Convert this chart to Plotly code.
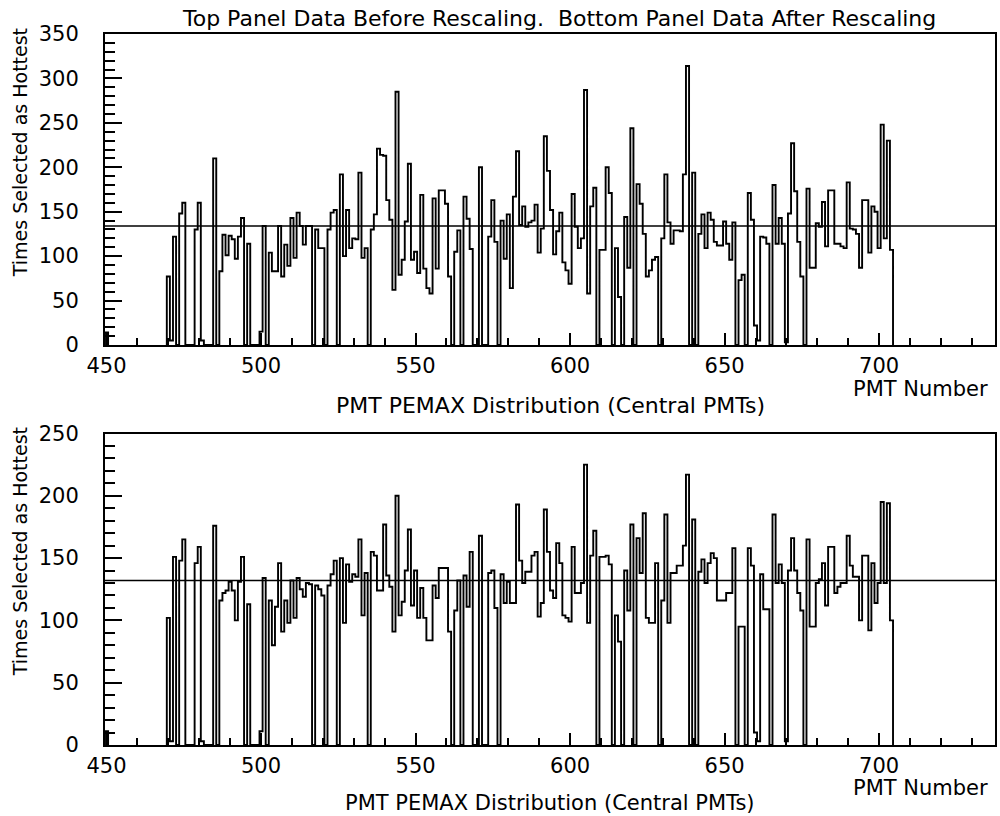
import plotly.graph_objects as go

# PMT channels that carry data (one histogram bin per PMT)
pmt_numbers = list(range(470, 705))

# Times each PMT was the hottest, before rescaling (PMT 470 .. 704)
top_counts = [
    77, 5, 122, 0, 148, 160, 0, 0, 0, 130,          # 470
    160, 5, 0, 0, 0, 210, 0, 83, 124, 101,          # 480
    123, 119, 97, 122, 143, 0, 114, 0, 0, 0,        # 490
    15, 134, 0, 104, 83, 83, 134, 77, 113, 89,      # 500
    143, 98, 149, 134, 113, 134, 134, 0, 130, 109,  # 510
    109, 0, 130, 149, 152, 0, 192, 100, 152, 109,   # 520
    120, 119, 194, 98, 109, 0, 130, 147, 221, 214,  # 530
    213, 163, 141, 62, 285, 79, 96, 139, 204, 96,   # 540
    105, 81, 169, 86, 64, 58, 165, 86, 174, 174,    # 550
    159, 77, 0, 105, 129, 0, 167, 142, 108, 0,      # 560
    0, 200, 0, 0, 122, 163, 116, 0, 140, 97,        # 570
    147, 64, 167, 218, 135, 156, 133, 138, 140, 158,  # 580
    104, 131, 235, 196, 152, 102, 128, 149, 93, 84,   # 590
    69, 170, 133, 109, 120, 287, 58, 156, 177, 0,     # 600
    107, 107, 200, 171, 0, 109, 54, 0, 144, 87,       # 610
    244, 0, 181, 159, 125, 77, 84, 96, 99, 0,         # 620
    120, 192, 138, 114, 129, 129, 128, 192, 314, 0,   # 630
    194, 0, 125, 147, 109, 149, 141, 116, 112, 112,   # 640
    139, 114, 96, 138, 0, 73, 79, 0, 171, 141,        # 650
    22, 5, 122, 121, 114, 0, 180, 114, 143, 114,      # 660
    3, 148, 227, 173, 116, 77, 0, 176, 87, 87,        # 670
    137, 133, 161, 111, 174, 174, 114, 114, 111, 109,  # 680
    183, 131, 130, 125, 87, 163, 163, 104, 156, 150,   # 690
    109, 248, 120, 230, 107,                           # 700
]

# Same PMTs after rescaling
bottom_counts = [
    102, 3, 151, 0, 148, 165, 0, 0, 0, 146,         # 470
    159, 3, 0, 0, 0, 176, 0, 116, 122, 124,         # 480
    131, 124, 100, 131, 151, 0, 113, 0, 0, 0,       # 490
    11, 134, 0, 116, 80, 111, 146, 91, 116, 98,     # 500
    132, 102, 134, 125, 119, 130, 129, 0, 128, 125,  # 510
    120, 0, 128, 137, 148, 0, 150, 98, 145, 131,    # 520
    137, 135, 165, 104, 138, 0, 155, 152, 124, 124,  # 530
    177, 136, 127, 91, 200, 104, 115, 140, 173, 112,  # 540
    140, 102, 126, 102, 84, 84, 128, 118, 142, 142,   # 550
    142, 91, 0, 108, 132, 0, 136, 111, 155, 0,        # 560
    0, 168, 0, 0, 138, 140, 110, 0, 137, 114,         # 570
    131, 114, 114, 193, 148, 130, 139, 139, 152, 155,  # 580
    103, 114, 189, 155, 124, 118, 162, 146, 104, 102,  # 590
    99, 159, 122, 122, 130, 225, 98, 152, 172, 0,      # 600
    151, 151, 152, 145, 0, 104, 83, 0, 140, 108,       # 610
    177, 0, 166, 138, 186, 102, 98, 98, 146, 0,        # 620
    116, 185, 98, 138, 138, 144, 144, 160, 217, 0,     # 630
    181, 0, 139, 149, 130, 146, 154, 150, 116, 116,    # 640
    116, 122, 122, 158, 0, 95, 95, 0, 158, 144,        # 650
    10, 3, 137, 109, 109, 0, 185, 130, 145, 130,       # 660
    3, 140, 166, 140, 122, 108, 0, 165, 95, 95,        # 670
    130, 133, 146, 112, 159, 159, 122, 127, 130, 130,  # 680
    168, 144, 135, 135, 100, 152, 152, 92, 146, 114,   # 690
    130, 195, 130, 194, 100,                           # 700
]

# Lone entry in the first bin of the axis
edge_pmt = 450
top_edge_count = 14
bottom_edge_count = 11

# Reference (average) level drawn across each panel
top_mean = 134
bottom_mean = 132

x_range = [449.5, 737.5]
x_major = [450, 500, 550, 600, 650, 700]
x_minor = [v for v in range(460, 740, 10) if v % 50 != 0]

title_text = "Top Panel Data Before Rescaling.  Bottom Panel Data After Rescaling"
x_title = "PMT PEMAX Distribution (Central PMTs)"
x_unit = "PMT Number"
y_title = "Times Selected as Hottest"

FONT = "DejaVu Sans"
INK = "black"


def step_outline(first_pmt, counts):
    """Histogram outline for consecutive unit-wide PMT bins, closed to zero."""
    xs = [first_pmt - 0.5] + [first_pmt + i - 0.5 for i in range(len(counts))]
    xs.append(first_pmt + len(counts) - 0.5)
    ys = [0] + list(counts) + [0]
    return xs, ys


fig = go.Figure()

for counts, edge_count, mean, xa, ya in (
    (top_counts, top_edge_count, top_mean, "x", "y"),
    (bottom_counts, bottom_edge_count, bottom_mean, "x2", "y2"),
):
    for first, vals in ((edge_pmt, [edge_count]), (pmt_numbers[0], counts)):
        xs, ys = step_outline(first, vals)
        fig.add_trace(go.Scatter(
            x=xs, y=ys, mode="lines", line=dict(color=INK, width=1.9, shape="hv"),
            xaxis=xa, yaxis=ya, hoverinfo="skip",
        ))
    fig.add_trace(go.Scatter(
        x=x_range, y=[mean, mean], mode="lines", line=dict(color=INK, width=1.4),
        xaxis=xa, yaxis=ya, hoverinfo="skip",
    ))

tick_font = dict(family=FONT, size=21, color=INK)

x_common = dict(
    range=x_range, tickmode="array", tickvals=x_major, ticks="inside",
    ticklen=12, tickwidth=1.5, tickcolor=INK,
    minor=dict(tickmode="array", tickvals=x_minor, ticks="inside",
               ticklen=7, tickwidth=1.5, tickcolor=INK),
    showline=True, linecolor=INK, linewidth=2, mirror=True,
    showgrid=False, zeroline=False, tickfont=tick_font, ticklabelstandoff=1,
)
y_common = dict(
    ticks="inside", ticklen=17, tickwidth=1.5, tickcolor=INK, dtick=50,
    minor=dict(dtick=10, ticks="inside", ticklen=10, tickwidth=1.5, tickcolor=INK),
    showline=True, linecolor=INK, linewidth=2, mirror=True,
    showgrid=False, zeroline=False, tickfont=tick_font, ticklabelstandoff=20,
)

fig.update_layout(
    width=1000, height=816,
    margin=dict(l=105, r=3, t=34, b=71),
    paper_bgcolor="white", plot_bgcolor="white",
    showlegend=False,
    font=dict(family=FONT, color=INK),
    xaxis=dict(domain=[0, 1], anchor="y", **x_common),
    yaxis=dict(domain=[0.5626, 1], anchor="x", range=[0, 350], **y_common),
    xaxis2=dict(domain=[0, 1], anchor="y2", **x_common),
    yaxis2=dict(domain=[0, 0.4381], anchor="x2", range=[0, 250], **y_common),
)

notes = [
    dict(text=title_text, x=0.51, y=1.0225, size=22),
    dict(text=x_unit, x=0.9944, y=0.5007, size=21, xanchor="right"),
    dict(text=x_title, x=0.5, y=0.4768, size=22),
    dict(text=x_unit, x=0.9944, y=-0.0605, size=21, xanchor="right"),
    dict(text=x_title, x=0.5, y=-0.0815, size=21),
]
for n in notes:
    fig.add_annotation(
        text=n["text"], xref="paper", yref="paper", x=n["x"], y=n["y"],
        xanchor=n.get("xanchor", "center"), yanchor="middle", showarrow=False,
        font=dict(family=FONT, size=n["size"], color=INK),
    )

for yc in (0.8326, 0.2714):
    fig.add_annotation(text=y_title, xref="paper", yref="paper", x=-0.0953, y=yc,
                       xanchor="center", yanchor="middle", textangle=-90,
                       showarrow=False, font=dict(family=FONT, size=19, color=INK))

fig.write_html("out.html")
